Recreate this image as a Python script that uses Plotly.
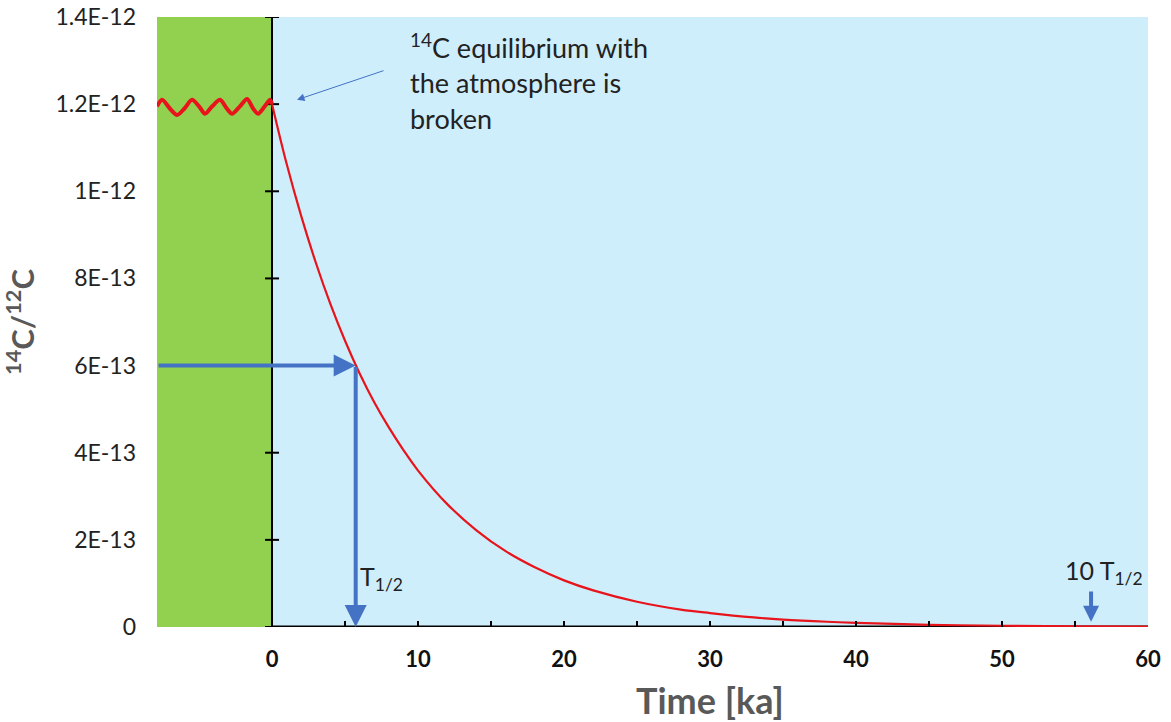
import plotly.graph_objects as go

# ---- data ----
X_MIN, X_MAX = -7.88, 60
Y_MIN, Y_MAX = 0, 1.4e-12

wave_x = [-7.88, -7.53, -7.0, -6.5, -6.0, -5.48, -5.0, -4.59, -4.1, -3.56, -3.1,
          -2.74, -2.2, -1.71, -1.3, -0.96, -0.5, -0.14, 0]
wave_y = [1.195, 1.21, 1.19, 1.175, 1.19, 1.21, 1.195, 1.178, 1.195, 1.21, 1.19,
          1.178, 1.195, 1.212, 1.19, 1.178, 1.195, 1.21, 1.2]
wave_y = [v * 1e-12 for v in wave_y]

decay_x = [0, 1, 2, 3, 4, 5, 6, 7, 8, 9, 10, 12, 14, 16, 18, 20, 22, 25, 28, 30,
           33, 35, 38, 40, 45, 50, 55, 60]
decay_y = [1.2, 1.063, 0.943, 0.836, 0.741, 0.657, 0.582, 0.516, 0.458, 0.406, 0.359,
           0.282, 0.222, 0.174, 0.137, 0.107, 0.084, 0.058, 0.040, 0.032,
           0.022, 0.017, 0.012, 0.0096, 0.0051, 0.0029, 0.0015, 0.0008]
decay_y = [v * 1e-12 for v in decay_y]

half_life = 5.73
half_value = 6e-13
ten_half_x = 56.1
ten_half_arrow = [0.085e-12, 0.012e-12]

x_tickvals = [0, 5, 10, 15, 20, 25, 30, 35, 40, 45, 50, 55, 60]
x_ticktext = ["0", "", "10", "", "20", "", "30", "", "40", "", "50", "", "60"]
y_tickvals = [0, 2e-13, 4e-13, 6e-13, 8e-13, 1e-12, 1.2e-12, 1.4e-12]
y_ticktext = ["0", "2E-13", "4E-13", "6E-13", "8E-13", "1E-12", "1.2E-12", "1.4E-12"]

# ---- style ----
FONT = "Lato"
RED = "#E8141B"
BLUE = "#4472C4"
GREEN = "#92D050"
SKY = "#CFEEFB"
GREY = "#595959"

fig = go.Figure()

# y-axis tick marks on the line at x = 0
fig.add_trace(go.Scatter(
    x=[0] * len(y_tickvals), y=y_tickvals, mode="markers",
    marker=dict(symbol="line-ew", size=10, line=dict(color="black", width=2)),
    hoverinfo="skip", showlegend=False))

fig.add_trace(go.Scatter(x=wave_x, y=wave_y, mode="lines",
                         line=dict(color=RED, width=4, shape="spline", smoothing=0.8),
                         showlegend=False))
fig.add_trace(go.Scatter(x=decay_x, y=decay_y, mode="lines",
                         line=dict(color=RED, width=2.2, shape="spline"),
                         showlegend=False))

# background regions
fig.add_shape(type="rect", xref="x", yref="y", x0=X_MIN, x1=0, y0=Y_MIN, y1=Y_MAX,
              fillcolor=GREEN, line_width=0, layer="below")
fig.add_shape(type="rect", xref="x", yref="y", x0=0, x1=X_MAX, y0=Y_MIN, y1=Y_MAX,
              fillcolor=SKY, line_width=0, layer="below")
# x axis line (only from 0), under the curve
fig.add_shape(type="line", xref="x", yref="y", x0=0, x1=X_MAX, y0=0, y1=0,
              line=dict(color="black", width=3), layer="below")

# arrows
fig.add_annotation(x=half_life, y=half_value, ax=X_MIN, ay=half_value,
                   xref="x", yref="y", axref="x", ayref="y", text="",
                   showarrow=True, arrowhead=2, arrowsize=1.1, arrowwidth=4,
                   arrowcolor=BLUE, standoff=0)
fig.add_annotation(x=half_life, y=0, ax=half_life, ay=half_value,
                   xref="x", yref="y", axref="x", ayref="y", text="",
                   showarrow=True, arrowhead=2, arrowsize=1.1, arrowwidth=4,
                   arrowcolor=BLUE, standoff=0)
fig.add_annotation(x=ten_half_x, y=ten_half_arrow[1], ax=ten_half_x, ay=ten_half_arrow[0],
                   xref="x", yref="y", axref="x", ayref="y", text="",
                   showarrow=True, arrowhead=2, arrowsize=0.8, arrowwidth=4,
                   arrowcolor=BLUE, standoff=0)
fig.add_annotation(x=1.71, y=1.21e-12, ax=7.74, ay=1.278e-12,
                   xref="x", yref="y", axref="x", ayref="y", text="",
                   showarrow=True, arrowhead=2, arrowsize=1.5, arrowwidth=1,
                   arrowcolor=BLUE, standoff=0)

# texts
fig.add_annotation(x=9.3, y=1.38e-12, xref="x", yref="y", xanchor="left", yanchor="top",
                   align="left", showarrow=False,
                   text="<sup>14</sup>C equilibrium with<br>the atmosphere is<br>broken",
                   font=dict(family=FONT, size=27, color="#222222"))
fig.add_annotation(x=5.9, y=0.112e-12, xref="x", yref="y", xanchor="left", yanchor="middle",
                   showarrow=False, text="T<sub>1/2</sub>",
                   font=dict(family=FONT, size=25, color="#222222"))
fig.add_annotation(x=54.2, y=0.126e-12, xref="x", yref="y", xanchor="left", yanchor="middle",
                   showarrow=False, text="10 T<sub>1/2</sub>",
                   font=dict(family=FONT, size=25, color="#222222"))
# x-axis title, centred under the 0..60 axis line
fig.add_annotation(x=(0 + X_MAX) / 2, y=-0.12, xref="x", yref="paper",
                   xanchor="center", yanchor="middle", showarrow=False,
                   text="<b>Time [ka]</b>",
                   font=dict(family=FONT, size=36, color=GREY))

fig.update_layout(
    width=1171, height=722,
    margin=dict(l=157, r=23, t=17, b=95, autoexpand=False),
    paper_bgcolor="white", plot_bgcolor="white",
    font=dict(family=FONT, color="#222222"),
    xaxis=dict(range=[X_MIN, X_MAX], showgrid=False, zeroline=True, automargin=False,
               zerolinecolor="black", zerolinewidth=1.5,
               tickmode="array", tickvals=x_tickvals, ticktext=x_ticktext,
               ticks="inside", ticklen=6, tickwidth=2, tickcolor="black",
               showline=False, ticklabelstandoff=17,
               tickfont=dict(family=FONT, size=22, color="#111111", weight="bold")),
    yaxis=dict(range=[Y_MIN, Y_MAX], showgrid=False, zeroline=False, automargin=False,
               tickmode="array", tickvals=y_tickvals, ticktext=y_ticktext,
               ticks="", showline=False, ticklabelstandoff=20,
               tickfont=dict(family=FONT, size=23, color="#222222"),
               title=dict(text="<b><sup>14</sup>C/<sup>12</sup>C</b>", standoff=16,
                          font=dict(family=FONT, size=31, color=GREY))),
)

fig.write_html("out.html", config={"displayModeBar": False},
               post_script="document.body.style.margin='0';")
